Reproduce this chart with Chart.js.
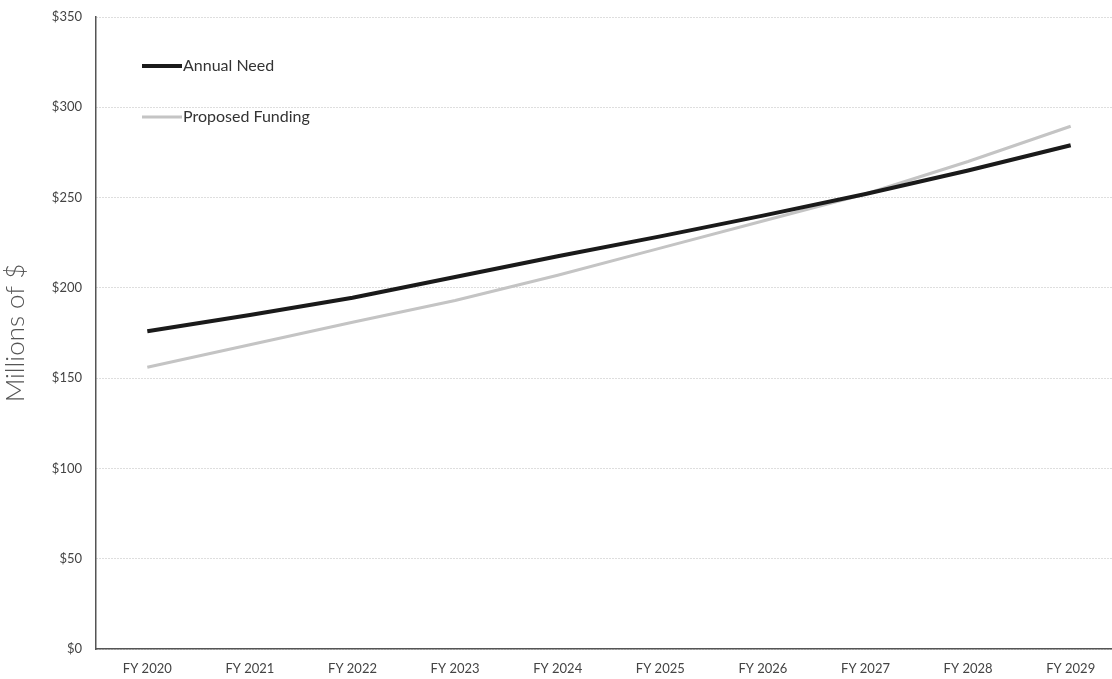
<!DOCTYPE html>
<html>
<head>
<meta charset="utf-8">
<script src="https://cdn.jsdelivr.net/npm/chart.js@4"></script>
<style>
  html, body { margin: 0; padding: 0; background: #fff; overflow: hidden; }
  #wrap { width: 1124px; height: 679px; }
</style>
</head>
<body>
<div id="wrap"><canvas id="myChart"></canvas></div>
<script>
var years = ['FY 2020', 'FY 2021', 'FY 2022', 'FY 2023', 'FY 2024', 'FY 2025', 'FY 2026', 'FY 2027', 'FY 2028', 'FY 2029'];
var annualNeed = [176, 185, 194.5, 206, 217.5, 228.5, 240, 252, 265, 279];
var proposedFunding = [156, 168.5, 181, 193, 207, 222, 237, 252, 270, 289.5];
var yTicks = [0, 50, 100, 150, 200, 250, 300, 350];

// legend drawn inside the plot, top left
var innerLegend = {
    id: 'innerLegend',
    afterDraw: function(chart) {
        var ctx = chart.ctx;
        var rows = [66, 117];
        ctx.save();
        chart.data.datasets.forEach(function(ds, i) {
            var y = rows[i];
            ctx.strokeStyle = ds.borderColor;
            ctx.lineWidth = ds.borderWidth;
            ctx.beginPath();
            ctx.moveTo(142, y);
            ctx.lineTo(182, y);
            ctx.stroke();
            ctx.fillStyle = '#333';
            ctx.font = '16px Lato';
            ctx.textBaseline = 'middle';
            ctx.fillText(ds.label, 183, y);
        });
        ctx.restore();
    }
};

var ctx = document.getElementById('myChart').getContext('2d');
var myChart = new Chart(ctx, {
    type: 'line',
    data: {
        labels: years,
        datasets: [{
            label: 'Annual Need',
            data: annualNeed,
            borderColor: '#1a1a1a',
            borderWidth: 4,
            pointRadius: 0,
            tension: 0
        }, {
            label: 'Proposed Funding',
            data: proposedFunding,
            borderColor: '#c4c4c4',
            borderWidth: 3,
            pointRadius: 0,
            tension: 0
        }]
    },
    options: {
        responsive: true,
        maintainAspectRatio: false,
        animation: false,
        layout: { padding: { top: 17, right: 2, left: 0, bottom: 0 } },
        plugins: {
            legend: { display: false },
            tooltip: { enabled: false }
        },
        scales: {
            x: {
                offset: true,
                grid: { display: false },
                border: { color: '#555', width: 1.5 },
                ticks: { color: '#444', font: { family: 'Lato', size: 13 }, padding: 4, maxRotation: 0 },
                afterFit: function(scale) { scale.height = 30; }
            },
            y: {
                min: 0,
                max: 350,
                afterBuildTicks: function(scale) {
                    scale.ticks = yTicks.map(function(v) { return { value: v }; });
                },
                grid: { color: '#bdbdbd', drawTicks: false },
                border: { color: '#555', width: 1.5, dash: [1, 2] },
                ticks: {
                    color: '#444',
                    font: { family: 'Lato', size: 13, lineHeight: 1 },
                    padding: 14,
                    callback: function(v) { return '$' + v; }
                },
                title: {
                    display: true,
                    text: 'Millions of $',
                    color: '#555',
                    font: { family: 'Lato', size: 26, weight: '300' },
                    padding: { top: 0, bottom: 2 }
                },
                afterFit: function(scale) {
                    scale.width = 96;
                    scale.paddingTop = 0;
                }
            }
        }
    },
    plugins: [innerLegend]
});
</script>
</body>
</html>
